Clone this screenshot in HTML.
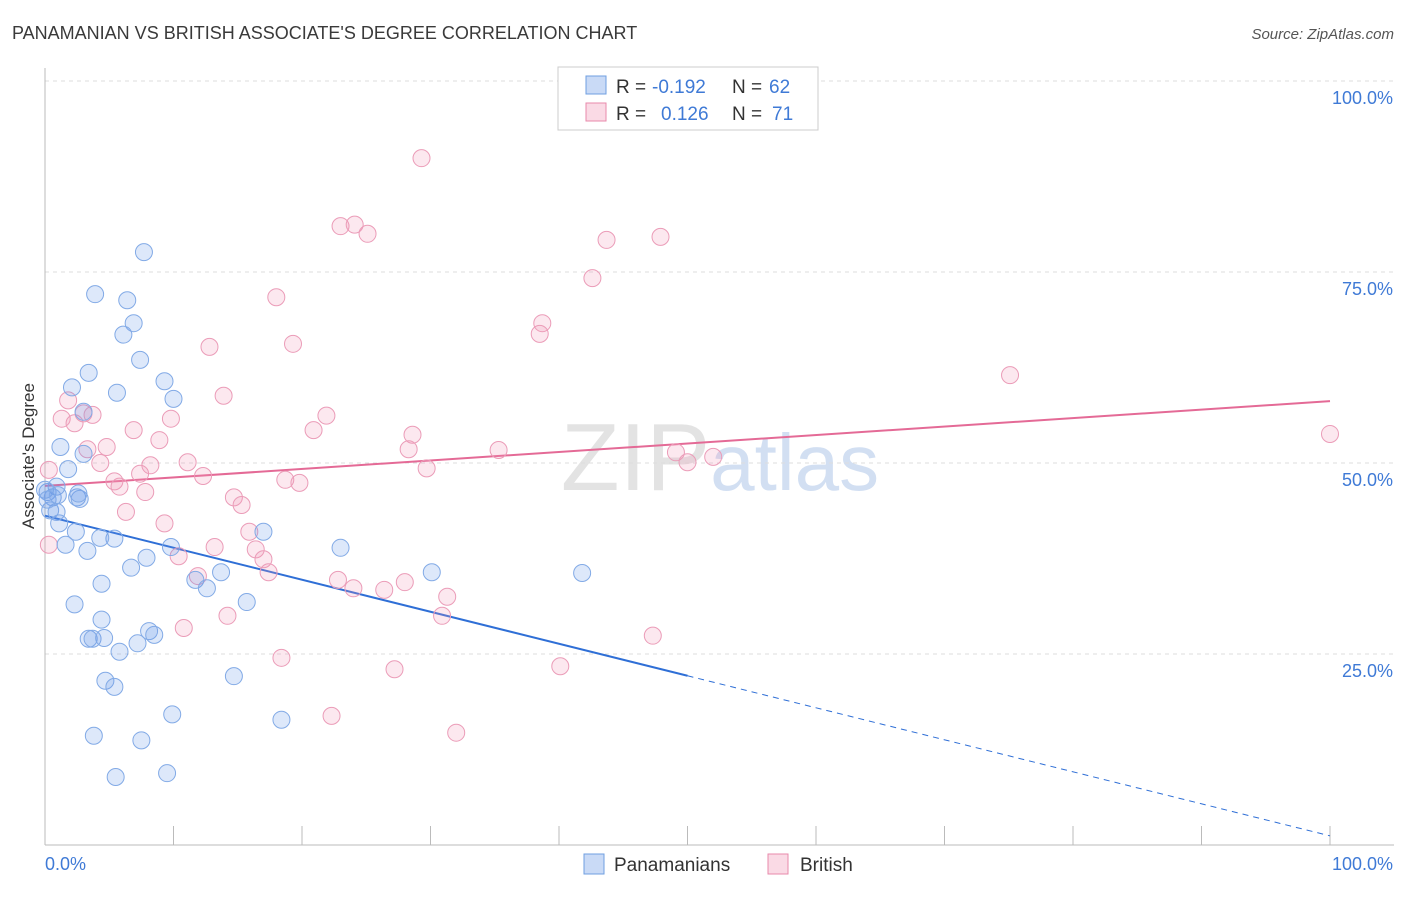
<!DOCTYPE html>
<html><head><meta charset="utf-8">
<style>
body{margin:0;background:#fff;font-family:"Liberation Sans",sans-serif;}
svg text{font-family:"Liberation Sans",sans-serif;}
</style></head>
<body>
<svg id="chart" width="1406" height="892" viewBox="0 0 1406 892" xmlns="http://www.w3.org/2000/svg">
<text x="12" y="39" font-size="18" fill="#3a3a3a">PANAMANIAN VS BRITISH ASSOCIATE'S DEGREE CORRELATION CHART</text>
<text x="1394" y="39" font-size="15" fill="#555" font-style="italic" text-anchor="end">Source: ZipAtlas.com</text>
<text x="720" y="490" font-size="96" fill="#ddd" text-anchor="middle" font-family="Liberation Serif" opacity="0.8">ZIP<tspan fill="#c8d8f0" font-family="Liberation Sans" font-size="80">atlas</tspan></text>
<g id="grid"></g>
<g id="axes"></g>
<g id="lines"></g>
<g id="points"></g>
<text transform="translate(34,456) rotate(-90)" font-size="17" fill="#333" text-anchor="middle">Associate's Degree</text>
<g>
<rect x="558" y="67" width="260" height="63" fill="#fff" stroke="#ccc"/>
<rect x="586" y="76" width="20" height="18" fill="rgba(100,150,230,0.35)" stroke="#6f9fe0"/>
<rect x="586" y="103" width="20" height="18" fill="rgba(240,150,180,0.35)" stroke="#e88aab"/>
<text x="616" y="93" font-size="19" fill="#333">R =</text>
<text x="652" y="93" font-size="19" fill="#3f7ad6">-0.192</text>
<text x="732" y="93" font-size="19" fill="#333">N =</text>
<text x="769" y="93" font-size="19" fill="#3f7ad6">62</text>
<text x="616" y="120" font-size="19" fill="#333">R =</text>
<text x="661" y="120" font-size="19" fill="#3f7ad6">0.126</text>
<text x="732" y="120" font-size="19" fill="#333">N =</text>
<text x="772" y="120" font-size="19" fill="#3f7ad6">71</text>
</g>
<g>
<rect x="584" y="854" width="20" height="20" fill="rgba(100,150,230,0.35)" stroke="#6f9fe0"/>
<text x="614" y="871" font-size="19" fill="#333">Panamanians</text>
<rect x="768" y="854" width="20" height="20" fill="rgba(240,150,180,0.35)" stroke="#e88aab"/>
<text x="800" y="871" font-size="19" fill="#333">British</text>
</g>
</svg>
<script>
const yTicks=[25,50,75,100];
const yTickLabels=["25.0%","50.0%","75.0%","100.0%"];
const xTicks=[0,10,20,30,40,50,60,70,80,90,100];
const blueX=[7.7,3.9,6.4,6.9,6.1,7.4,3.4,2.1,9.3,5.6,10.0,3.0,1.2,3.0,1.8,0.9,0.2,0.6,2.5,2.7,0.4,0.9,1.1,2.4,1.6,3.3,5.4,4.3,17.0,23.0,9.8,7.9,6.7,13.7,30.1,41.8,11.7,12.6,4.4,15.7,2.3,4.4,8.1,8.5,3.4,3.7,4.6,7.2,5.8,14.7,4.7,5.4,9.9,18.4,3.8,7.5,5.5,9.5,0,0.2,1.0,2.6];
const blueY=[77.6,72.1,71.3,68.3,66.8,63.5,61.8,59.9,60.7,59.2,58.4,56.7,52.1,51.2,49.2,46.9,46.2,45.5,45.5,45.3,43.8,43.6,42.1,41.0,39.3,38.5,40.1,40.2,41.0,38.9,39.0,37.6,36.3,35.7,35.7,35.6,34.7,33.6,34.2,31.8,31.5,29.5,28.0,27.5,27.0,27.0,27.1,26.4,25.3,22.1,21.5,20.7,17.1,16.4,14.3,13.7,8.9,9.4,46.5,45.2,45.8,46.0];
const pinkX=[29.3,23.0,24.1,25.1,43.7,47.9,42.6,18.0,38.7,38.5,12.8,19.3,75.1,13.9,1.8,1.3,3.0,3.7,9.8,21.9,2.3,20.9,6.9,28.6,100,8.9,3.3,4.8,28.3,35.3,49.1,52.0,50.0,4.3,8.2,11.1,29.7,0.3,7.4,12.3,5.4,18.7,5.8,19.8,7.8,14.7,15.3,6.3,9.3,15.9,13.2,16.4,0.3,10.4,17.0,17.4,11.9,22.8,24.0,26.4,28.0,31.3,30.9,14.2,10.8,47.3,18.4,27.2,40.1,22.3,32.0];
const pinkY=[89.9,81.0,81.2,80.0,79.2,79.6,74.2,71.7,68.3,66.9,65.2,65.6,61.5,58.8,58.2,55.8,56.5,56.3,55.8,56.2,55.2,54.3,54.3,53.7,53.8,53.0,51.8,52.1,51.8,51.7,51.4,50.8,50.1,50.0,49.7,50.1,49.3,49.1,48.6,48.3,47.6,47.8,46.9,47.4,46.2,45.5,44.5,43.6,42.1,41.0,39.0,38.7,39.3,37.8,37.4,35.7,35.2,34.7,33.6,33.4,34.4,32.5,30.0,30.0,28.4,27.4,24.5,23.0,23.4,16.9,14.7];
const blueTrend=[43.1,1.2];
const pinkTrend=[47.0,58.1];
const NS="http://www.w3.org/2000/svg";
const X0=45,X1=1330,Y0=845,Y100=81;
function xs(v){return X0+(X1-X0)*v/100;}
function ys(v){return Y0-(Y0-Y100)*v/100;}
function mk(tag,attrs,parent){const e=document.createElementNS(NS,tag);for(const k in attrs)e.setAttribute(k,attrs[k]);parent.appendChild(e);return e;}
const grid=document.getElementById('grid'),axes=document.getElementById('axes'),lines=document.getElementById('lines'),pts=document.getElementById('points');
yTicks.forEach((t,i)=>{
 const l=mk('line',{x1:45,x2:1394,y1:ys(t),y2:ys(t),stroke:'#ddd','stroke-dasharray':'4,4'},grid);
 
 
 const tx=mk('text',{x:1393,y:ys(t)+23,'font-size':18,fill:'#3f7ad6','text-anchor':'end'},axes);
 tx.textContent=yTickLabels[i];
 
 
});
const ax=mk('line',{x1:45,x2:1394,y1:845,y2:845,stroke:'#bbb'},axes);


const ay=mk('line',{x1:45,x2:45,y1:68,y2:845,stroke:'#bbb'},axes);


xTicks.forEach(t=>{
 const l=mk('line',{x1:xs(t),x2:xs(t),y1:826,y2:845,stroke:'#bbb'},axes);
 
 
});
const xl0=mk('text',{x:45,y:870,'font-size':18,fill:'#3f7ad6'},axes);xl0.textContent='0.0%';


const xl1=mk('text',{x:1393,y:870,'font-size':18,fill:'#3f7ad6','text-anchor':'end'},axes);xl1.textContent='100.0%';


function drawPts(X,Y,fill,stroke,name){
 X.forEach((x,i)=>{
  const c=mk('circle',{cx:xs(x),cy:ys(Y[i]),r:8.5,fill:fill,stroke:stroke,'stroke-width':1},pts);
  
  
 });
}
drawPts(pinkX,pinkY,'rgba(240,150,180,0.22)','#eb9cb8','british-point');
drawPts(blueX,blueY,'rgba(100,150,230,0.22)','#82aae6','panamanian-point');
const bAt=v=>blueTrend[0]+(blueTrend[1]-blueTrend[0])*v/100;
const b1=mk('line',{x1:xs(0),y1:ys(bAt(0)),x2:xs(50),y2:ys(bAt(50)),stroke:'#2f6fd6','stroke-width':2},lines);


const b2=mk('line',{x1:xs(50),y1:ys(bAt(50)),x2:xs(100),y2:ys(bAt(100)),stroke:'#2f6fd6','stroke-width':1,'stroke-dasharray':'6,5'},lines);


const p1=mk('line',{x1:xs(0),y1:ys(pinkTrend[0]),x2:xs(100),y2:ys(pinkTrend[1]),stroke:'#e46a96','stroke-width':2},lines);


</script>
</body></html>
